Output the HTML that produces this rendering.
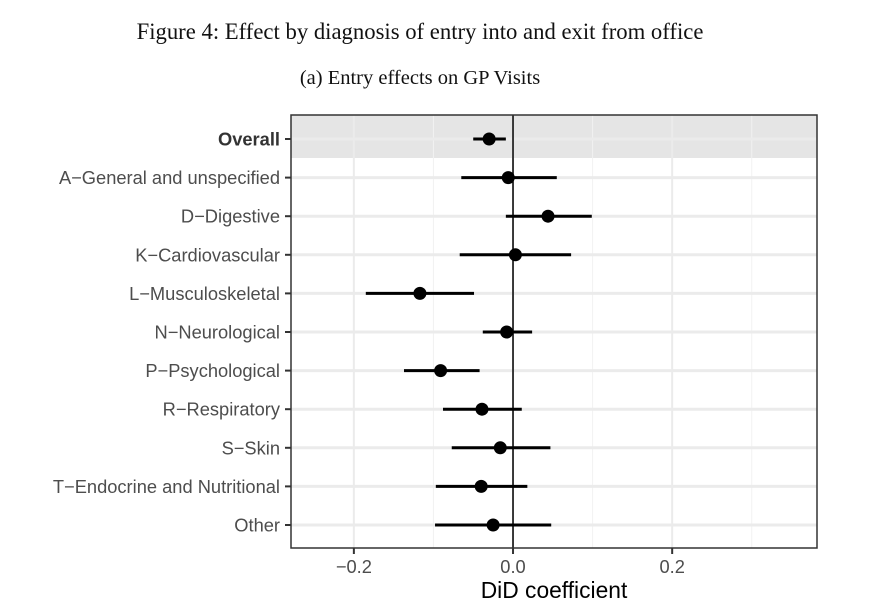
<!DOCTYPE html>
<html><head><meta charset="utf-8"><style>
body{margin:0;background:#fff;width:892px;height:607px;overflow:hidden}
svg{display:block}
</style></head><body>
<svg id="chart" width="892" height="607">
<text x="420" y="39" text-anchor="middle" font-family="Liberation Serif, serif" font-size="22.7" fill="#111">Figure 4: Effect by diagnosis of entry into and exit from office</text>
<text x="420" y="84" text-anchor="middle" font-family="Liberation Serif, serif" font-size="20.5" fill="#111">(a) Entry effects on GP Visits</text>
<g id="plot"></g>
<text x="554" y="598" text-anchor="middle" font-family="Liberation Sans, sans-serif" font-size="22.8" fill="#000">DiD coefficient</text>
</svg>
<script>
const categories=["Overall","A\u2212General and unspecified","D\u2212Digestive","K\u2212Cardiovascular","L\u2212Musculoskeletal","N\u2212Neurological","P\u2212Psychological","R\u2212Respiratory","S\u2212Skin","T\u2212Endocrine and Nutritional","Other"];
const estimates=[-0.030,-0.006,0.044,0.003,-0.117,-0.008,-0.091,-0.039,-0.016,-0.040,-0.025];
const lower=[-0.050,-0.065,-0.009,-0.067,-0.185,-0.038,-0.137,-0.088,-0.077,-0.097,-0.098];
const upper=[-0.009,0.055,0.099,0.073,-0.049,0.024,-0.042,0.011,0.047,0.018,0.048];
const xTicks=[-0.2,0,0.2];
const xTickLabels=["\u22120.2","0.0","0.2"];
const xMinor=[-0.1,0.1,0.3];

const NS="http://www.w3.org/2000/svg";
const L=291,R=817,T=115,B=548,x0=-0.279,x1=0.382;
const xs=v=>L+(v-x0)/(x1-x0)*(R-L);
const ys=i=>139+i*38.6;
const g=document.getElementById('plot');
function mk(tag,attrs){const e=document.createElementNS(NS,tag);for(const k in attrs)e.setAttribute(k,attrs[k]);g.appendChild(e);return e;}

let e=mk('rect',{x:L,y:T,width:R-L,height:43,fill:'#e5e5e5'});


xMinor.forEach(v=>{const m=mk('line',{x1:xs(v),x2:xs(v),y1:T,y2:B,stroke:'#f2f2f2','stroke-width':1});

});
xTicks.forEach(v=>{const m=mk('line',{x1:xs(v),x2:xs(v),y1:T,y2:B,stroke:'#ebebeb','stroke-width':2});

});
categories.forEach((c,i)=>{const m=mk('line',{x1:L,x2:R,y1:ys(i),y2:ys(i),stroke:'#ebebeb','stroke-width':3});

});
e=mk('line',{x1:xs(0),x2:xs(0),y1:T,y2:B,stroke:'#000','stroke-width':1.5});


categories.forEach((c,i)=>{
 const y=ys(i);
 let ci=mk('line',{x1:xs(lower[i]),x2:xs(upper[i]),y1:y,y2:y,stroke:'#000','stroke-width':3});
 
 
 let p=mk('circle',{cx:xs(estimates[i]),cy:y,r:6.5,fill:'#000'});
 
 
 let t=mk('line',{x1:L-6,x2:L,y1:y,y2:y,stroke:'#333','stroke-width':2});
 
 
 let lab=mk('text',{x:L-11,y:y+6.5,'text-anchor':'end','font-family':'Liberation Sans, sans-serif','font-size':18.3,fill:i===0?'#333':'#4d4d4d','font-weight':i===0?'bold':'normal'});
 lab.textContent=c;
 
 
});
xTicks.forEach((v,i)=>{
 let t=mk('line',{x1:xs(v),x2:xs(v),y1:B,y2:B+6,stroke:'#333','stroke-width':2});
 
 
 let lab=mk('text',{x:xs(v),y:B+25,'text-anchor':'middle','font-family':'Liberation Sans, sans-serif','font-size':18.3,fill:'#4d4d4d'});
 lab.textContent=xTickLabels[i];
 
 
});
e=mk('rect',{x:L,y:T,width:R-L,height:B-T,fill:'none',stroke:'#333','stroke-width':1.5});


</script>
</body></html>
